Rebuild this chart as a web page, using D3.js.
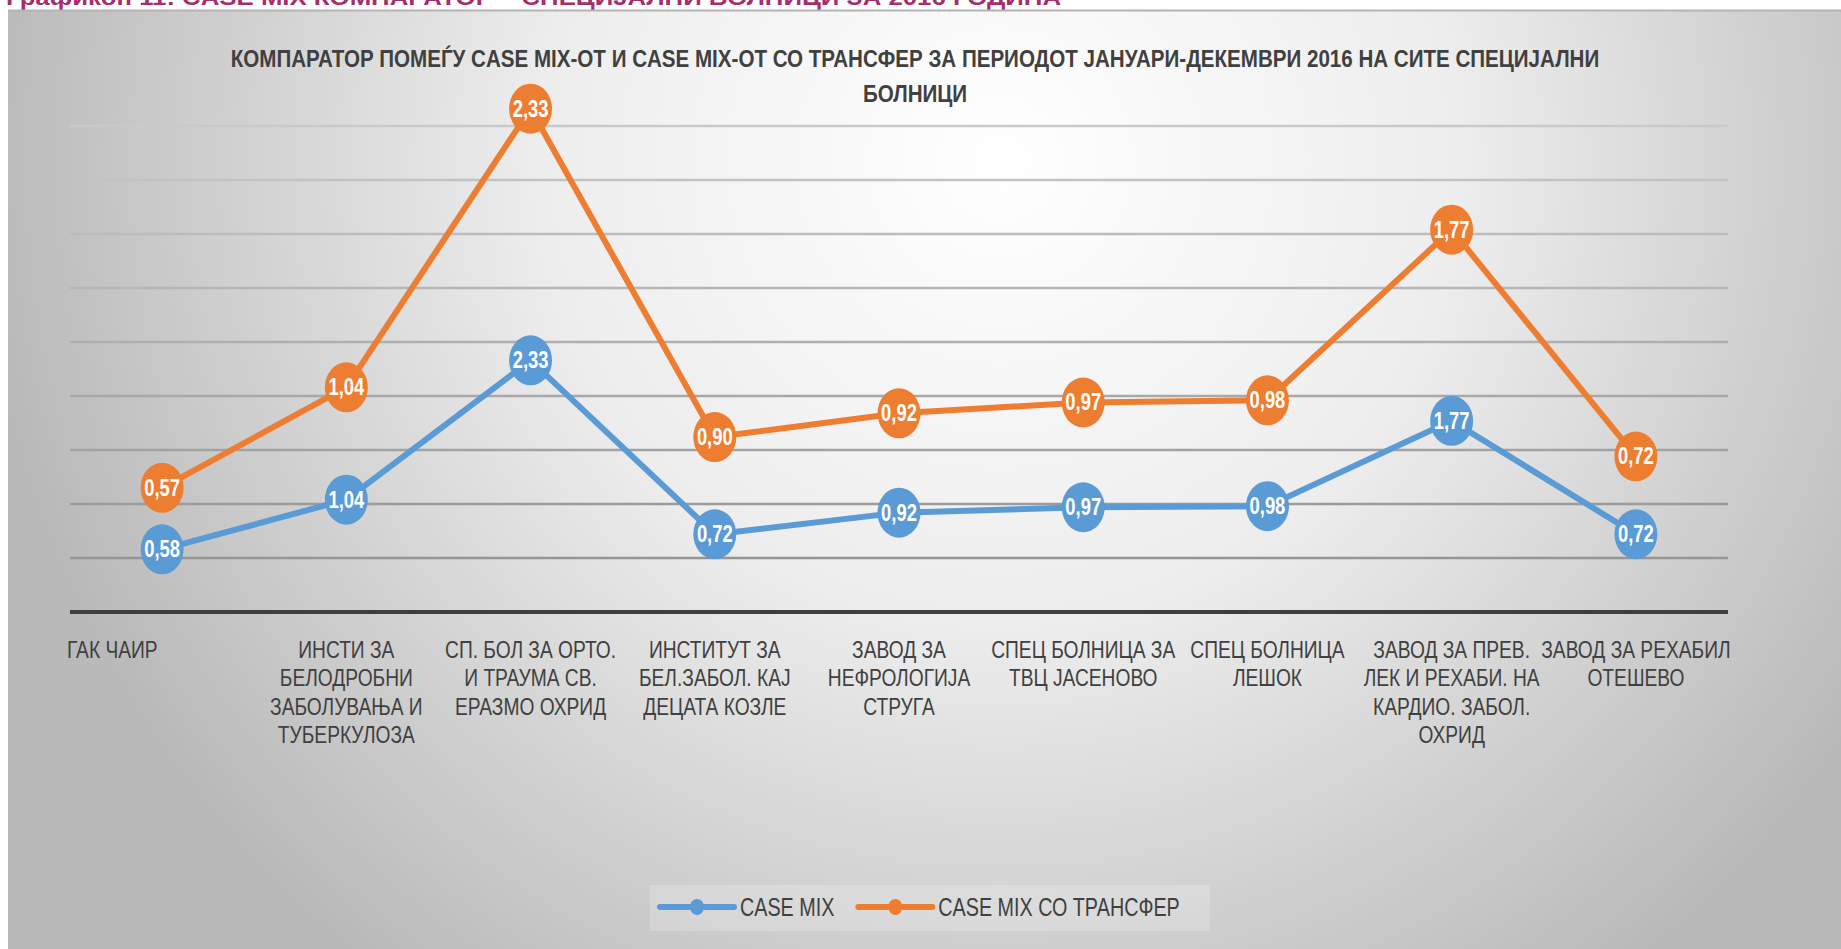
<!DOCTYPE html>
<html>
<head>
<meta charset="utf-8">
<script src="https://cdn.jsdelivr.net/npm/d3@7"></script>
<style>
  html, body { margin: 0; padding: 0; background: #ffffff; }
  svg { display: block; }
  text { font-family: "Liberation Sans", Arial, sans-serif; }
</style>
</head>
<body>
<svg id="chart" width="1841" height="949"></svg>
<script>
// ---------- DATA ----------
const categories = [
  ["ГАК ЧАИР"],
  ["ИНСТИ ЗА", "БЕЛОДРОБНИ", "ЗАБОЛУВАЊА И", "ТУБЕРКУЛОЗА"],
  ["СП. БОЛ ЗА ОРТО.", "И ТРАУМА СВ.", "ЕРАЗМО ОХРИД"],
  ["ИНСТИТУТ ЗА", "БЕЛ.ЗАБОЛ. КАЈ", "ДЕЦАТА КОЗЛЕ"],
  ["ЗАВОД ЗА", "НЕФРОЛОГИЈА", "СТРУГА"],
  ["СПЕЦ БОЛНИЦА ЗА", "ТВЦ ЈАСЕНОВО"],
  ["СПЕЦ БОЛНИЦА", "ЛЕШОК"],
  ["ЗАВОД ЗА ПРЕВ.", "ЛЕК И РЕХАБИ. НА", "КАРДИО. ЗАБОЛ.", "ОХРИД"],
  ["ЗАВОД ЗА РЕХАБИЛ", "ОТЕШЕВО"]
];
const caseMix         = [0.58, 1.04, 2.33, 0.72, 0.92, 0.97, 0.98, 1.77, 0.72];
const caseMixTransfer = [0.57, 1.04, 2.33, 0.90, 0.92, 0.97, 0.98, 1.77, 0.72];
const seriesNames = ["CASE MIX", "CASE MIX СО ТРАНСФЕР"];
const gridValues = [0.5, 1.0, 1.5, 2.0, 2.5, 3.0, 3.5, 4.0, 4.5];
const yDomain = [0, 5];
const titleLines = [
  "КОМПАРАТОР ПОМЕЃУ CASE MIX-ОТ И CASE MIX-ОТ СО ТРАНСФЕР ЗА ПЕРИОДОТ ЈАНУАРИ-ДЕКЕМВРИ 2016 НА СИТЕ СПЕЦИЈАЛНИ",
  "БОЛНИЦИ"
];
const pageCaption = "Графикон 11: CASE MIX КОМПАРАТОР – СПЕЦИЈАЛНИ БОЛНИЦИ ЗА 2016 ГОДИНА";

// ---------- LAYOUT ----------
const W = 1841, H = 949;
const plot = { left: 70, right: 1728, top: 72, bottom: 612 };
const colors = ["#5B9BD5", "#ED7D31"];
const SX = 0.8; // horizontal condensing of the narrow font

const svg = d3.select("#chart");
const defs = svg.append("defs");
const grad = defs.append("radialGradient")
  .attr("id", "bg").attr("gradientUnits", "userSpaceOnUse")
  .attr("cx", 1000).attr("cy", 160).attr("r", 1020);
grad.append("stop").attr("offset", "0%").attr("stop-color", "#ffffff");
grad.append("stop").attr("offset", "45%").attr("stop-color", "#ededed");
grad.append("stop").attr("offset", "100%").attr("stop-color", "#b9b9b9");

// helper: condensed text placed at (x,y)
function ctext(parent, x, y, sx) {
  return parent.append("g")
    .attr("transform", `translate(${x},${y}) scale(${sx},1)`)
    .append("text").attr("x", 0).attr("y", 0);
}

// page caption (cut off at top, as in the source page)
const cap = svg.append("text")
  .attr("x", 6).attr("y", 5)
  .attr("font-size", 22).attr("font-weight", "bold")
  .attr("fill", "#A3306B")
  .text(pageCaption);
cap.attr("textLength", 1055).attr("lengthAdjust", "spacingAndGlyphs");

// chart area
svg.append("rect")
  .attr("x", 8).attr("y", 10).attr("width", W - 8).attr("height", H - 10)
  .attr("fill", "url(#bg)");
svg.append("line")
  .attr("x1", 8).attr("x2", W).attr("y1", 10.5).attr("y2", 10.5)
  .attr("stroke", "#b4b4b4").attr("stroke-width", 2);

// scales
const x = d3.scalePoint()
  .domain(d3.range(categories.length))
  .range([plot.left, plot.right])
  .padding(0.5);
const y = d3.scaleLinear().domain(yDomain).range([plot.bottom, plot.top]);

// gridlines
const gridColor = d3.scaleLinear().domain([0, 5]).range(["#8e8e8e", "#d0d0d0"]);
svg.append("g").selectAll("line")
  .data(gridValues).join("line")
  .attr("x1", plot.left).attr("x2", plot.right)
  .attr("y1", d => y(d)).attr("y2", d => y(d))
  .attr("stroke", d => gridColor(d))
  .attr("stroke-width", 2.5);

// x axis line
svg.append("line")
  .attr("x1", plot.left).attr("x2", plot.right)
  .attr("y1", y(0)).attr("y2", y(0))
  .attr("stroke", "#3f3f3f").attr("stroke-width", 4);

// category labels
const catG = svg.append("g").attr("fill", "#404040").attr("font-size", 24);
categories.forEach((lines, i) => {
  const t = ctext(catG, i === 0 ? plot.left - 3 : x(i), y(0) + 46, SX)
    .attr("text-anchor", i === 0 ? "start" : "middle");
  lines.forEach((ln, j) => {
    t.append("tspan")
      .attr("x", 0)
      .attr("dy", j === 0 ? 0 : 28.5)
      .text(ln);
  });
});

// stacked series
const stack0 = caseMix.slice();
const stack1 = caseMix.map((v, i) => v + caseMixTransfer[i]);
const series = [
  { name: seriesNames[0], raw: caseMix, top: stack0, color: colors[0] },
  { name: seriesNames[1], raw: caseMixTransfer, top: stack1, color: colors[1] }
];
const fmt = v => d3.format(".2f")(v).replace(".", ",");
const lineGen = d3.line().x((d, i) => x(i)).y(d => y(d));

series.forEach(s => {
  const g = svg.append("g");
  g.append("path")
    .attr("d", lineGen(s.top))
    .attr("fill", "none")
    .attr("stroke", s.color)
    .attr("stroke-width", 6)
    .attr("stroke-linejoin", "round");
  g.selectAll("ellipse")
    .data(s.top).join("ellipse")
    .attr("cx", (d, i) => x(i)).attr("cy", d => y(d))
    .attr("rx", 21.5).attr("ry", 25)
    .attr("fill", s.color);
  s.raw.forEach((v, i) => {
    ctext(g, x(i), y(s.top[i]) + 8, 0.8)
      .attr("text-anchor", "middle")
      .attr("font-size", 23).attr("font-weight", "bold")
      .attr("fill", "#ffffff")
      .text(fmt(v));
  });
});

// title (condensed to the width it has in the source)
const tG = svg.append("g").attr("fill", "#404040");
const t1 = ctext(tG, 915, 67, 1).attr("text-anchor", "middle")
  .attr("font-size", 24).attr("font-weight", "bold").text(titleLines[0]);
const tScale = 1369 / t1.node().getComputedTextLength();
d3.select(t1.node().parentNode).attr("transform", `translate(915,67) scale(${tScale},1)`);
ctext(tG, 915, 102, tScale).attr("text-anchor", "middle")
  .attr("font-size", 24).attr("font-weight", "bold").text(titleLines[1]);

// legend
const legendY = 907;
const leg = svg.append("g");
leg.append("rect")
  .attr("x", 650).attr("y", 885).attr("width", 560).attr("height", 46)
  .attr("fill", "#ffffff").attr("opacity", 0.2);
let lx = 660;
series.forEach((s, i) => {
  leg.append("line")
    .attr("x1", lx).attr("x2", lx + 74)
    .attr("y1", legendY).attr("y2", legendY)
    .attr("stroke", s.color).attr("stroke-width", 6).attr("stroke-linecap", "round");
  leg.append("ellipse")
    .attr("cx", lx + 37).attr("cy", legendY).attr("rx", 7).attr("ry", 8)
    .attr("fill", s.color);
  const t = ctext(leg, lx + 80, legendY + 9, 0.79)
    .attr("font-size", 25).attr("fill", "#404040")
    .text(s.name);
  lx += 80 + t.node().getComputedTextLength() * 0.79 + 24;
});
</script>
</body>
</html>
